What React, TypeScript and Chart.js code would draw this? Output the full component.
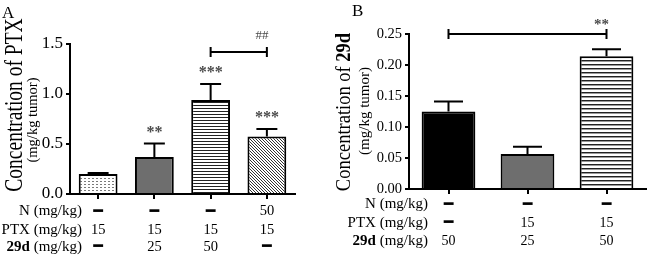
import React, { useEffect, useRef } from "react";
import { Chart, registerables } from "chart.js";
Chart.register(...registerables);

// ---------- data ----------
const groupsA = ["G1", "G2", "G3", "G4"];
const ptxMean = [0.2, 0.37, 0.94, 0.575];
const ptxErr = [0.01, 0.135, 0.16, 0.075];
const ptxStars = ["", "**", "***", "***"];
const rowN_A = ["-", "-", "-", "50"];
const rowPTX_A = ["15", "15", "15", "15"];
const row29d_A = ["-", "25", "50", "-"];
const yMaxA = 1.5;
const yStepA = 0.5;
const bracketA = { from: 2, to: 3, level: 1.42, text: "##" };

const groupsB = ["G1", "G2", "G3"];
const d29Mean = [0.125, 0.0565, 0.214];
const d29Err = [0.016, 0.0115, 0.0115];
const d29Stars = ["", "", ""];
const rowN_B = ["-", "-", "-"];
const rowPTX_B = ["-", "15", "15"];
const row29d_B = ["50", "25", "50"];
const yMaxB = 0.25;
const yStepB = 0.05;
const bracketB = { from: 0, to: 2, level: 0.25, text: "**" };

const rowNames = ["N", "PTX", "29d"];
const rowUnit = " (mg/kg)";

const SERIF = "'Liberation Serif', 'Times New Roman', serif";

// ---------- patterns ----------
function makeFill(kind: string): any {
  if (kind.startsWith("#")) return kind;
  const c = document.createElement("canvas");
  const g = c.getContext("2d")!;
  if (kind === "dots") {
    c.width = 4; c.height = 3;
    g.fillStyle = "#fff"; g.fillRect(0, 0, 4, 3);
    g.fillStyle = "#7a7a7a"; g.fillRect(0, 1, 2, 1);
  } else if (kind === "hlines3") {
    c.width = 4; c.height = 3;
    g.fillStyle = "#fff"; g.fillRect(0, 0, 4, 3);
    g.fillStyle = "#222"; g.fillRect(0, 0, 4, 1);
  } else if (kind === "hlines4") {
    c.width = 4; c.height = 4;
    g.fillStyle = "#fff"; g.fillRect(0, 0, 4, 4);
    g.fillStyle = "#222"; g.fillRect(0, 0, 4, 1);
    g.fillStyle = "#999"; g.fillRect(0, 1, 4, 1);
  } else if (kind === "diag") {
    c.width = 3; c.height = 3;
    g.fillStyle = "#fff"; g.fillRect(0, 0, 3, 3);
    g.fillStyle = "#333";
    g.fillRect(0, 0, 1, 1); g.fillRect(1, 1, 1, 1); g.fillRect(2, 2, 1, 1);
  }
  return g.createPattern(c, "repeat");
}

function drawRotated(ctx: CanvasRenderingContext2D, parts: { t: string; b: boolean }[], size: number, x: number, yc: number, stretch: number) {
  ctx.save();
  ctx.translate(x, yc);
  ctx.rotate(-Math.PI / 2);
  ctx.scale(1, stretch);
  ctx.textBaseline = "alphabetic";
  ctx.textAlign = "left";
  ctx.fillStyle = "#000";
  const widths = parts.map((p) => {
    ctx.font = `${p.b ? "bold " : ""}${size}px ${SERIF}`;
    return ctx.measureText(p.t).width;
  });
  const total = widths.reduce((a, b) => a + b, 0);
  let cur = -total / 2;
  parts.forEach((p, i) => {
    ctx.font = `${p.b ? "bold " : ""}${size}px ${SERIF}`;
    ctx.fillText(p.t, cur, 0);
    cur += widths[i];
  });
  ctx.restore();
}

function buildChart(canvas: HTMLCanvasElement, s: any) {
  const decor = {
    id: "decor",
    afterDraw(chart: any) {
      const ctx: CanvasRenderingContext2D = chart.ctx;
      const xs = chart.scales.x;
      const ys = chart.scales.y;
      const meta = chart.getDatasetMeta(0);
      ctx.save();
      // error bars + stars
      ctx.strokeStyle = "#000";
      ctx.lineWidth = 2;
      meta.data.forEach((bar: any, i: number) => {
        const v = s.values[i];
        const e = s.errors[i];
        const x = bar.x;
        const yTop = ys.getPixelForValue(v);
        const yErr = ys.getPixelForValue(v + e);
        const half = (bar.width * 0.54) / 2;
        ctx.beginPath();
        ctx.moveTo(x, yTop);
        ctx.lineTo(x, yErr);
        ctx.moveTo(x - half, yErr);
        ctx.lineTo(x + half, yErr);
        ctx.stroke();
        if (s.stars[i]) {
          ctx.fillStyle = "#4a4a4a";
          ctx.font = `bold 16px ${SERIF}`;
          ctx.textAlign = "center";
          ctx.textBaseline = "middle";
          ctx.fillText(s.stars[i], x, yErr - 13 + 2);
        }
      });
      // bracket
      const br = s.bracket;
      const bx1 = xs.getPixelForValue(br.from);
      const bx2 = xs.getPixelForValue(br.to);
      const by = ys.getPixelForValue(br.level);
      ctx.beginPath();
      ctx.moveTo(bx1, by); ctx.lineTo(bx2, by);
      ctx.moveTo(bx1, by - 5); ctx.lineTo(bx1, by + 5);
      ctx.moveTo(bx2, by - 5); ctx.lineTo(bx2, by + 5);
      ctx.stroke();
      ctx.fillStyle = "#4a4a4a";
      ctx.font = `${s.bracketBold ? "bold " : ""}${s.bracketFont}px ${SERIF}`;
      ctx.textAlign = "center";
      ctx.textBaseline = "middle";
      ctx.fillText(br.text, bx2 - 5, by - s.bracketGap);
      // table
      ctx.fillStyle = "#000";
      s.rows.forEach((row: string[], r: number) => {
        const y = s.rowY[r];
        ctx.textBaseline = "middle";
        ctx.textAlign = "right";
        ctx.font = `${s.rowFont}px ${SERIF}`;
        ctx.fillText(rowUnit, s.rowLabelX, y);
        const w = ctx.measureText(rowUnit).width;
        ctx.font = `${r === 2 ? "bold " : ""}${s.rowFont}px ${SERIF}`;
        ctx.fillText(rowNames[r], s.rowLabelX - w, y);
        row.forEach((val: string, i: number) => {
          const x = xs.getPixelForValue(i);
          ctx.textAlign = "center";
          if (val === "-") {
            ctx.font = "16px 'DejaVu Sans'";
            ctx.fillText("\u2501", x, y);
          } else {
            ctx.font = `${s.valFont}px ${SERIF}`;
            ctx.fillText(val, x, y);
          }
        });
      });
      // titles
      drawRotated(ctx, s.title, s.titleSize, s.titleX, s.titleY, s.titleStretch);
      drawRotated(ctx, [{ t: "(mg/kg tumor)", b: false }], s.subSize, s.subX, s.subY, 1);
      // panel letter
      ctx.fillStyle = "#000";
      ctx.font = `17px ${SERIF}`;
      ctx.textAlign = "left";
      ctx.textBaseline = "alphabetic";
      ctx.fillText(s.letter, s.letterX, s.letterY);
      ctx.restore();
    },
  };

  return new Chart(canvas, {
    type: "bar",
    data: {
      labels: s.labels,
      datasets: [
        {
          data: s.values,
          backgroundColor: s.fills.map(makeFill),
          borderColor: "#000",
          borderWidth: 2,
          barPercentage: s.barPct,
          categoryPercentage: 1,
        },
      ],
    },
    options: {
      responsive: false,
      animation: false,
      devicePixelRatio: 1,
      layout: { padding: s.padding },
      plugins: { legend: { display: false }, tooltip: { enabled: false }, title: { display: false } },
      scales: {
        x: {
          offset: true,
          grid: { display: true, drawOnChartArea: false, drawTicks: true, tickLength: 5, offset: false, color: "#000", lineWidth: 2 },
          border: { display: true, color: "#000", width: 2 },
          ticks: { display: false },
          afterFit: (sc: any) => { sc.height = 5; },
        },
        y: {
          min: 0,
          max: s.yMax,
          grid: { drawOnChartArea: false, drawTicks: true, tickLength: 4, color: "#000", lineWidth: 2 },
          border: { display: true, color: "#000", width: 2 },
          ticks: {
            stepSize: s.step,
            color: "#000",
            padding: 3,
            font: { family: SERIF, size: s.tickSize },
            callback: (v: any) => Number(v).toFixed(s.dec),
          },
          afterFit: (sc: any) => { sc.width = s.yWidth; },
        },
      },
    } as any,
    plugins: [decor],
  });
}

export default function App() {
  const refA = useRef<HTMLCanvasElement>(null);
  const refB = useRef<HTMLCanvasElement>(null);
  useEffect(() => {
    const specA = {
      labels: groupsA, values: ptxMean, errors: ptxErr, stars: ptxStars,
      fills: ["dots", "#6e6e6e", "hlines3", "diag"], barPct: 0.69,
      yMax: yMaxA, step: yStepA, dec: 1, tickSize: 17, yWidth: 70,
      padding: { left: 0, right: 35, top: 44, bottom: 57 },
      bracket: bracketA, bracketFont: 13, bracketBold: false, bracketGap: 16,
      rows: [rowN_A, rowPTX_A, row29d_A], rowY: [211.5, 230.5, 247], rowLabelX: 82, rowFont: 15, valFont: 14.5,
      title: [{ t: "Concentration of PTX", b: false }], titleSize: 19.5, titleX: 22, titleY: 105, titleStretch: 1.3,
      subSize: 14.5, subX: 37, subY: 120,
      letter: "A", letterX: 2, letterY: 18,
    };
    const specB = {
      labels: groupsB, values: d29Mean, errors: d29Err, stars: d29Stars,
      fills: ["#000000", "#6e6e6e", "hlines4"], barPct: 0.68,
      yMax: yMaxB, step: yStepB, dec: 2, tickSize: 14.5, yWidth: 79,
      padding: { left: 0, right: 7, top: 34, bottom: 62 },
      bracket: bracketB, bracketFont: 15, bracketBold: true, bracketGap: 9,
      rows: [rowN_B, rowPTX_B, row29d_B], rowY: [204.5, 223, 241.5], rowLabelX: 98, rowFont: 15, valFont: 14,
      title: [{ t: "Concentration of ", b: false }, { t: "29d", b: true }], titleSize: 18.5, titleX: 20, titleY: 112, titleStretch: 1.1,
      subSize: 15, subX: 39, subY: 111,
      letter: "B", letterX: 22, letterY: 16,
    };
    const a = buildChart(refA.current!, specA);
    const b = buildChart(refB.current!, specB);
    return () => { a.destroy(); b.destroy(); };
  }, []);
  return (
    <div style={{ position: "absolute", left: 0, top: 0, width: 653, height: 256, background: "#fff" }}>
      <canvas ref={refA} width={330} height={256} style={{ position: "absolute", left: 0, top: 0 }} />
      <canvas ref={refB} width={323} height={256} style={{ position: "absolute", left: 330, top: 0 }} />
    </div>
  );
}
